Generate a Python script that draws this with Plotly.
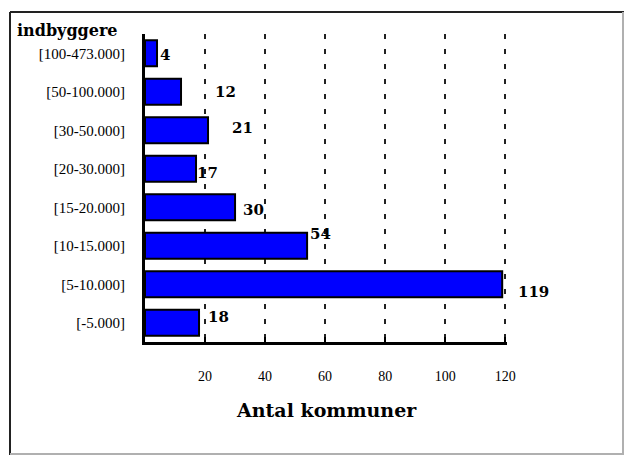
import plotly.graph_objects as go

# ---- data ----
categories = ["[-5.000]", "[5-10.000]", "[10-15.000]", "[15-20.000]",
              "[20-30.000]", "[30-50.000]", "[50-100.000]", "[100-473.000]"]
counts = [18, 119, 54, 30, 17, 21, 12, 4]
x_ticks = [20, 40, 60, 80, 100, 120]
x_title = "Antal kommuner"
y_title = "indbyggere"

# ---- style: label offsets in pixels (dx, dy) ----
label_shift = [(8, 6), (15, -8), (2, 12), (7, -3), (0, -4), (23, 2), (33, 0), (2, -2)]

W, H = 625, 456
L, R, T, B = 145, 118, 34, 114
pw, ph = W - L - R, H - T - B

def px(x):
    return (x - L) / pw

def py(y):
    return 1 - (y - T) / ph

fig = go.Figure()
fig.add_trace(go.Bar(
    x=counts, y=categories, orientation="h",
    marker=dict(color="#0000FF", line=dict(color="black", width=2)),
    width=0.68, hoverinfo="skip",
))

for cat, val, (dx, dy) in zip(categories, counts, label_shift):
    fig.add_annotation(x=val, y=cat, text="<b>%d</b>" % val, showarrow=False,
                       xanchor="left", yanchor="middle", xshift=dx, yshift=dy,
                       font=dict(family="DejaVu Serif", size=15, color="black"),
                       borderpad=0)

# axis title and y title
fig.add_annotation(x=px(326), y=py(410), xref="paper", yref="paper",
                   text="<b>%s</b>" % x_title, showarrow=False,
                   xanchor="center", yanchor="middle",
                   font=dict(family="DejaVu Serif", size=19, color="black"))
fig.add_annotation(x=px(15), y=py(31), xref="paper", yref="paper",
                   text="<b>%s</b>" % y_title, showarrow=False,
                   xanchor="left", yanchor="middle",
                   font=dict(family="DejaVu Serif", size=16, color="black"))

# outer frame
frame = [
    (10, 12, 10, 455, "#222222"),
    (10, 12, 624, 12, "#222222"),
    (623, 12, 623, 455, "#b0b0b0"),
    (10, 454, 624, 454, "#b0b0b0"),
]
for x0, y0, x1, y1, c in frame:
    fig.add_shape(type="line", xref="paper", yref="paper",
                  x0=px(x0), y0=py(y0), x1=px(x1), y1=py(y1),
                  line=dict(color=c, width=2))

fig.update_layout(
    width=W, height=H,
    margin=dict(l=L, r=R, t=T, b=B),
    paper_bgcolor="white", plot_bgcolor="white",
    showlegend=False,
    font=dict(family="Liberation Serif", size=15, color="black"),
)
fig.update_xaxes(
    range=[0, 120.6], tickvals=x_ticks, ticktext=[str(v) for v in x_ticks],
    showgrid=True, gridcolor="#222222", gridwidth=2, griddash="5px,10px",
    showline=True, linecolor="black", linewidth=3,
    ticks="inside", ticklen=5, tickwidth=2, tickcolor="black",
    ticklabelstandoff=19, zeroline=False,
    tickfont=dict(family="Liberation Serif", size=14),
)
fig.update_yaxes(
    range=[-0.5, 7.5], showgrid=False, showline=True, linecolor="black",
    linewidth=3, ticks="", ticklabelstandoff=14,
    tickfont=dict(family="Liberation Serif", size=15),
)

fig.write_html("out.html")
